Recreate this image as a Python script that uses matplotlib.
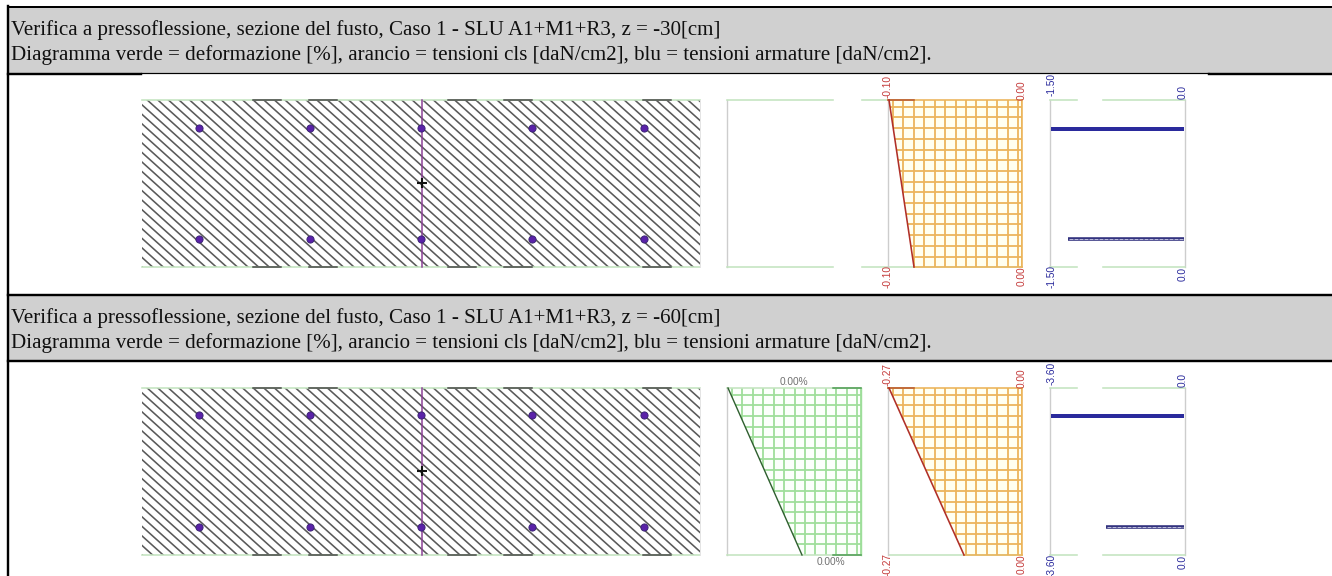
import numpy as np
import matplotlib
matplotlib.use("Agg")
import matplotlib.pyplot as plt
from matplotlib.patches import Polygon, Rectangle

# the picture is laid out in pixels, so the axes run in pixels too
titles = ["Verifica a pressoflessione, sezione del fusto, Caso 1 - SLU A1+M1+R3, z = -30[cm]",
          "Verifica a pressoflessione, sezione del fusto, Caso 1 - SLU A1+M1+R3, z = -60[cm]"]
subtitle = "Diagramma verde = deformazione [%], arancio = tensioni cls [daN/cm2], blu = tensioni armature [daN/cm2]."

band_top = [7, 296]
band_bottom = [73, 360]
title_base = [35, 323]
sub_base = [60, 348]

sec_top = [100, 388]
sec_bottom = [267, 555]
sec_left = 142
sec_right = 700
bar_x = [199, 310, 421, 532, 644]
bar_y_top = [128, 415]
bar_y_bottom = [239, 527]
dash_start = [253, 309, 448, 504, 643]

# diagram edges
strain_left = 727
strain_right = 861
conc_left = 888
conc_right = 1022
steel_left = 1050
steel_right = 1185

strain_bottom_x = [None, 802]
conc_top_x = [889, 889]
conc_bottom_x = [914, 964]
conc_labels = ["-0.10", "-0.27"]
steel_labels = ["-1.50", "-3.60"]
steel_low_x = [1068, 1106]

GREEN = "#c4e4c0"
GRID_GREEN = "#9ede9a"
ORANGE = "#ecb45a"
GREY = "#cdcdcd"
RED = "#c43a3a"
NAVY = "#2a2a9c"

fig = plt.figure(figsize=(13.32, 5.76), dpi=100)
ax = fig.add_axes([0, 0, 1, 1])
ax.set_xlim(0, 1332)
ax.set_ylim(576, 0)
ax.axis("off")


def px(w):
    return w * 0.72


def small(x, y, s, color, rot=90):
    ax.text(x, y, s, color=color, fontsize=7.3, rotation=rot, ha="center", va="center",
            family="Liberation Sans", zorder=6)


def grid(x0, x1, top, bottom, color, outline, fill):
    clip = Polygon(outline, closed=True, transform=ax.transData, facecolor=fill, edgecolor="none", zorder=2)
    ax.add_patch(clip)
    xs = list(np.arange(x1 - 129.2, x1, 10.45)) + [x1]
    ys = list(np.arange(top + 6.7, bottom, 10.7))
    for x in xs:
        ln, = ax.plot([x, x], [top, bottom], color=color, lw=px(1.8), zorder=3)
        ln.set_clip_path(clip)
    for y in ys:
        ln, = ax.plot([x0, x1], [y, y], color=color, lw=px(1.8), zorder=3)
        ln.set_clip_path(clip)


# header bands and the table border
for i in range(2):
    ax.add_patch(Rectangle((8, band_top[i]), 1324, band_bottom[i] - band_top[i], color="#d0d0d0", lw=0, zorder=1))
    ax.text(11, title_base[i], titles[i], family="Liberation Serif", fontsize=15.1, va="baseline", color="#101010", zorder=6)
    ax.text(11, sub_base[i], subtitle, family="Liberation Serif", fontsize=15.1, va="baseline", color="#101010", zorder=6)

ax.plot([8, 8], [6, 576], color="black", lw=px(2.4), zorder=7)
ax.plot([8, 1332], [6.5, 6.5], color="black", lw=px(2), zorder=7)
ax.plot([8, 141], [74, 74], color="black", lw=px(2.4), zorder=7)
ax.plot([141, 1209], [73, 73], color="black", lw=px(1.2), zorder=7)
ax.plot([1209, 1332], [74, 74], color="black", lw=px(2.4), zorder=7)
ax.plot([8, 1332], [295, 295], color="black", lw=px(2.4), zorder=7)
ax.plot([8, 1332], [361, 361], color="black", lw=px(2.4), zorder=7)

for i in range(2):
    top = sec_top[i]
    bottom = sec_bottom[i]
    height = bottom - top

    # hatched section
    rect = Rectangle((sec_left, top), sec_right - sec_left, height, fill=False, edgecolor="none")
    ax.add_patch(rect)
    for c in np.arange(sec_left - height / 0.9, sec_right, 10.6):
        ln, = ax.plot([c, c + height / 0.9], [top, bottom], color="#5a5a5a", lw=px(1.6), zorder=2)
        ln.set_clip_path(rect)
    ax.plot([sec_left, sec_right], [top, top], color=GREEN, lw=px(1.6), zorder=3)
    ax.plot([sec_left, sec_right], [bottom, bottom], color=GREEN, lw=px(1.6), zorder=3)
    ax.plot([sec_right, sec_right], [top, bottom], color="#e4e4e4", lw=px(1), zorder=3)
    for x in dash_start:
        ax.plot([x, x + 28], [top, top], color="#444444", lw=px(1.5), zorder=4)
        ax.plot([x, x + 28], [bottom, bottom], color="#444444", lw=px(1.5), zorder=4)
    ax.plot([421.5, 421.5], [top, bottom], color="#8a3f95", lw=px(1.5), zorder=4)
    ax.plot([421.5], [(top + bottom) / 2 - 0.5], marker="+", ms=7, mew=1.5, color="#111111", zorder=5)
    for y in (bar_y_top[i], bar_y_bottom[i]):
        ax.scatter(bar_x, [y] * len(bar_x), s=27, color="#5a22a8", edgecolors="#35206e", linewidths=0.6, zorder=5)

    # strain diagram
    ax.plot([strain_left, strain_left], [top, bottom], color=GREY, lw=px(1.4), zorder=3)
    if strain_bottom_x[i] is None:
        for y in (top, bottom):
            ax.plot([strain_left, 833], [y, y], color=GREEN, lw=px(1.6), zorder=3)
            ax.plot([862, conc_left], [y, y], color=GREEN, lw=px(1.6), zorder=3)
    else:
        grid(strain_left, strain_right, top, bottom, GRID_GREEN,
             [(strain_left + 1, top), (strain_right, top), (strain_right, bottom), (strain_bottom_x[i], bottom)],
             "#fbfffb")
        for y in (top, bottom):
            ax.plot([strain_left, strain_right], [y, y], color=GREEN, lw=px(1.6), zorder=3)
            ax.plot([833, strain_right], [y, y], color="#4a9a50", lw=px(1.5), zorder=4)
        ax.plot([strain_right, strain_right], [top, bottom], color=GRID_GREEN, lw=px(1.4), zorder=3)
        ax.plot([strain_left + 1, strain_bottom_x[i]], [top, bottom], color="#2f5f2f", lw=px(1.4), zorder=4)
        small(794, top - 6, "0.00%", "#707070", rot=0)
        small(831, bottom + 7, "0.00%", "#707070", rot=0)

    # concrete stress diagram
    ax.plot([conc_left, conc_left], [top, bottom], color=GREY, lw=px(1.4), zorder=3)
    grid(conc_left, conc_right, top, bottom, ORANGE,
         [(conc_top_x[i], top), (conc_right, top), (conc_right, bottom), (conc_bottom_x[i], bottom)],
         "#fffff0")
    ax.plot([conc_top_x[i], conc_right], [bottom, bottom], color=GREEN, lw=px(1.6), zorder=2)
    ax.plot([conc_bottom_x[i], conc_right], [bottom, bottom], color=ORANGE, lw=px(1.6), zorder=3)
    ax.plot([conc_left, conc_right], [top, top], color=ORANGE, lw=px(1.6), zorder=3)
    ax.plot([conc_left, 914], [top, top], color="#b85a30", lw=px(1.6), zorder=4)
    ax.plot([conc_right, conc_right], [top, bottom], color=ORANGE, lw=px(1.6), zorder=3)
    ax.plot([conc_top_x[i], conc_bottom_x[i]], [top, bottom], color="#b03028", lw=px(1.6), zorder=4)
    small(conc_left, top - 13, conc_labels[i], RED)
    small(conc_right, top - 10, "0.00", RED)
    small(conc_left, bottom + 10, conc_labels[i], RED)
    small(conc_right, bottom + 9, "0.00", RED)

    # steel stress diagram
    for x in (steel_left, steel_right):
        ax.plot([x, x], [top, bottom], color=GREY, lw=px(1.4), zorder=3)
    for y in (top, bottom):
        ax.plot([steel_left, 1077], [y, y], color=GREEN, lw=px(1.6), zorder=3)
        ax.plot([1103, steel_right], [y, y], color=GREEN, lw=px(1.6), zorder=3)
    ax.plot([steel_left + 1, steel_right - 1], [bar_y_top[i] + 0.5] * 2, color=NAVY, lw=px(4), solid_capstyle="butt", zorder=4)
    ax.plot([steel_low_x[i], steel_right - 1], [bar_y_bottom[i]] * 2, color="#33337f", lw=px(3.6), solid_capstyle="butt", zorder=4)
    ax.plot([steel_low_x[i] + 1, steel_right - 2], [bar_y_bottom[i]] * 2, color="#b8b8d8", lw=px(1), ls=(0, (4, 1)), zorder=5)
    small(steel_left + 2, top - 15, steel_labels[i], NAVY)
    small(steel_right - 2, top - 8, "0.0", NAVY)
    small(steel_left + 2, bottom + 10, steel_labels[i], NAVY)
    small(steel_right - 2, bottom + 7, "0.0", NAVY)

fig.savefig("out.png", dpi=100)
